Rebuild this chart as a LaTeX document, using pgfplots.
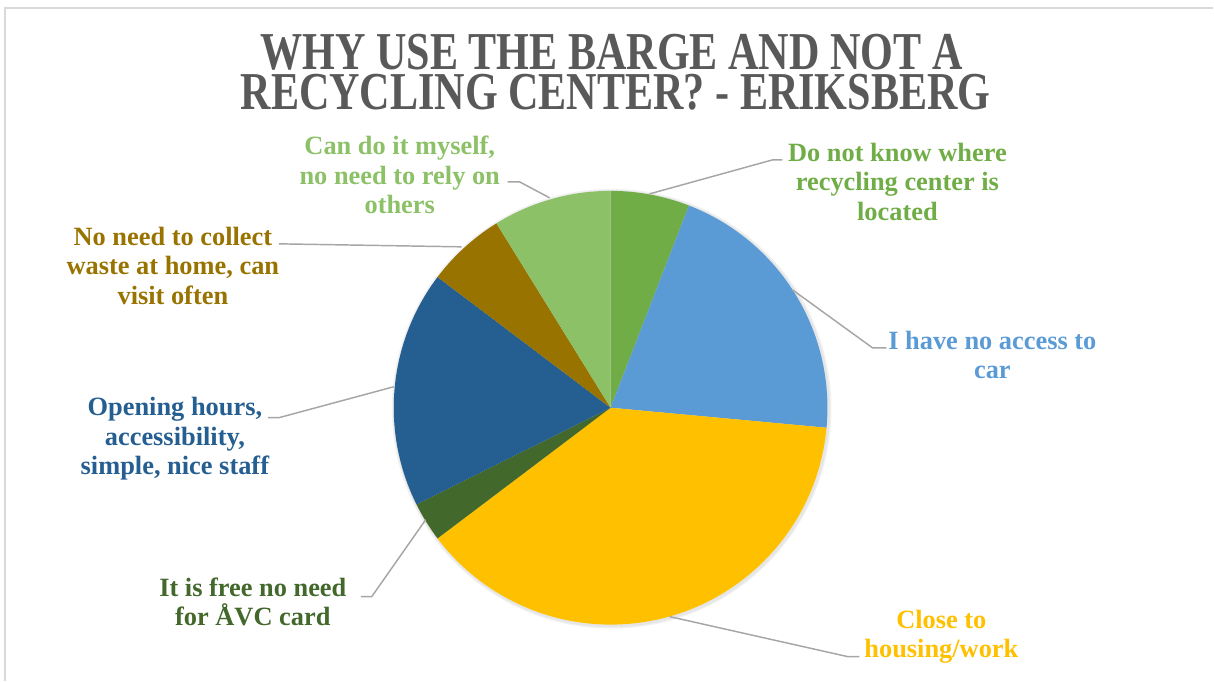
\documentclass[border=0pt]{standalone}
\usepackage{fontspec}
\setmainfont{Liberation Serif}
\newfontfamily\titlefont[FakeStretch=0.79]{Liberation Serif}
\usepackage{pgfplots}
\usepackage{pgfplotstable}
\pgfplotsset{compat=1.18}
\definecolor{slice0}{HTML}{70AD47}
\definecolor{slice1}{HTML}{5B9BD5}
\definecolor{slice2}{HTML}{FFC000}
\definecolor{slice3}{HTML}{43682B}
\definecolor{slice4}{HTML}{255E91}
\definecolor{slice5}{HTML}{997300}
\definecolor{slice6}{HTML}{8CC168}
\definecolor{titlegray}{HTML}{595959}
\definecolor{leader}{HTML}{A6A6A6}
\definecolor{frame}{HTML}{D9D9D9}

\pgfplotstableread{
val
2
7
13
1
6
2
3
}\piedata

\begin{document}
\begin{tikzpicture}
\begin{axis}[hide axis, scale only axis, width=910.5pt, height=510.75pt,
  xmin=0, xmax=1214, ymin=0, ymax=681, y dir=reverse, clip=false]
\addplot[draw=none] coordinates {(0,0) (1214,681)};
\path (axis cs:0,0) rectangle (axis cs:1214,681);
\draw[frame, line width=1.2pt] (axis cs:5,681) -- (axis cs:5,8) -- (axis cs:1214,8);
% shadow
\fill[black, opacity=0.05] (axis cs:612,409) circle[radius=165pt];
\fill[black, opacity=0.05] (axis cs:612,409) circle[radius=164pt];
% total
\def\tot{0}
\pgfplotsforeachungrouped \i in {0,...,6}{%
  \pgfplotstablegetelem{\i}{val}\of\piedata
  \pgfmathsetmacro\tot{\tot+\pgfplotsretval}%
}
\def\cum{0}
\pgfplotsforeachungrouped \i in {0,...,6}{%
  \pgfplotstablegetelem{\i}{val}\of\piedata
  \let\v\pgfplotsretval
  \pgfmathsetmacro\sa{90-360*\cum/\tot}%
  \pgfmathsetmacro\ea{90-360*(\cum+\v)/\tot}%
  \pgfmathsetmacro\cum{\cum+\v}%
  \edef\temp{\noexpand\fill[slice\i] (axis cs:611,408) -- ([shift={(\sa:162.75pt)}]axis cs:611,408) arc[start angle=\sa, end angle=\ea, radius=162.75pt] -- cycle;}%
  \temp
}
% leader lines
\begin{scope}[leader, line width=1.1pt]
\draw (axis cs:650,194) -- (axis cs:773,160) -- (axis cs:783,160);
\draw (axis cs:793,290) -- (axis cs:873,348) -- (axis cs:887,348);
\draw (axis cs:670,617) -- (axis cs:848,657) -- (axis cs:860,657);
\draw (axis cs:426,520) -- (axis cs:372,597) -- (axis cs:361,597);
\draw (axis cs:394,387) -- (axis cs:279,418) -- (axis cs:268,418);
\draw (axis cs:462,247) -- (axis cs:279,244);
\draw (axis cs:550,198) -- (axis cs:520,182) -- (axis cs:508,182);
\end{scope}
% title
\tikzset{ttl/.style={titlegray, anchor=base, inner sep=0pt, font=\titlefont\bfseries\fontsize{40}{30}\selectfont}}
\node[ttl] at (axis cs:612,70) {WHY USE THE BARGE AND NOT A};
\node[ttl] at (axis cs:616,110) {RECYCLING CENTER? - ERIKSBERG};
% labels
\tikzset{lab/.style={align=center, font=\bfseries\fontsize{19.8}{22}\selectfont, inner sep=0pt}}
\node[lab, slice0] at (axis cs:898,182) {Do not know where\\recycling center is\\located};
\node[lab, slice1] at (axis cs:993,355) {I have no access to\\car};
\node[lab, slice2] at (axis cs:942,637) {Close to\\housing/work};
\node[lab, slice3] at (axis cs:253,602) {It is free no need\\for ÅVC card};
\node[lab, slice4] at (axis cs:175,439) {Opening hours,\\accessibility,\\simple, nice staff};
\node[lab, slice5] at (axis cs:173,266) {No need to collect\\waste at home, can\\visit often};
\node[lab, slice6] at (axis cs:400,175) {Can do it myself,\\no need to rely on\\others};
\end{axis}
\end{tikzpicture}
\end{document}
